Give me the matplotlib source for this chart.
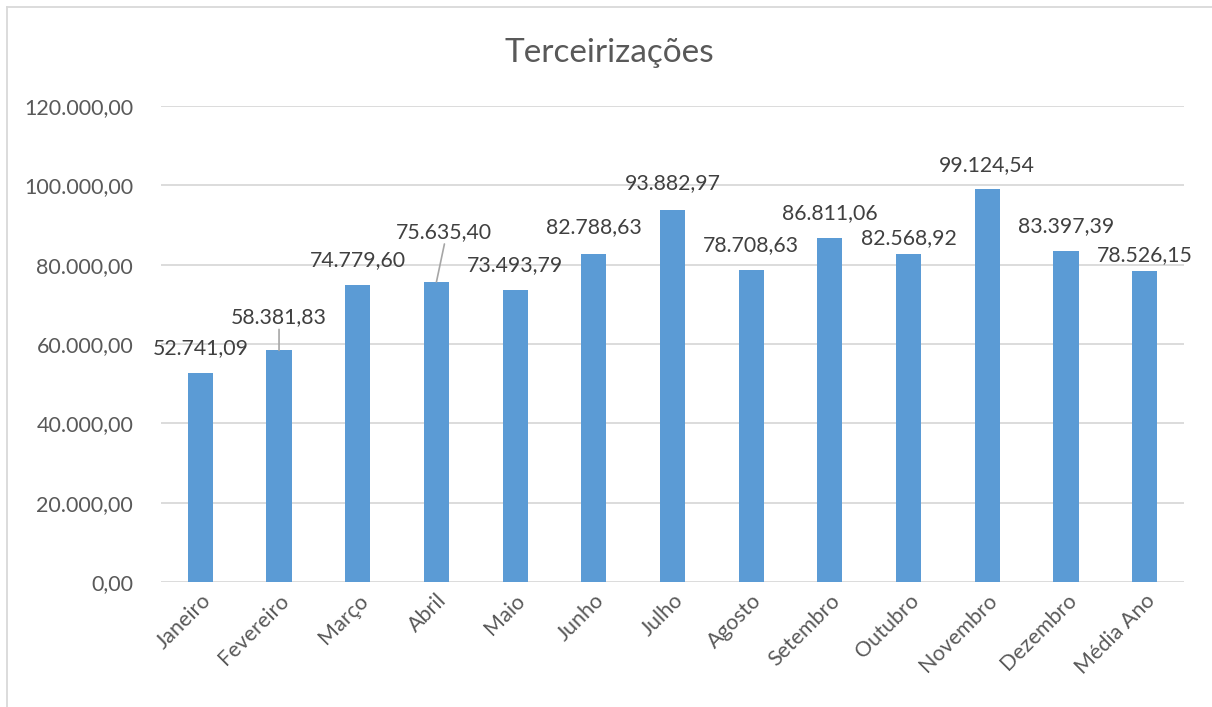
import matplotlib.pyplot as plt
from matplotlib.lines import Line2D
from matplotlib.ticker import FuncFormatter

# Data
meses = ["Janeiro", "Fevereiro", "Março", "Abril", "Maio", "Junho", "Julho",
         "Agosto", "Setembro", "Outubro", "Novembro", "Dezembro", "Média Ano"]
valores = [52741.09, 58381.83, 74779.60, 75635.40, 73493.79, 82788.63, 93882.97,
           78708.63, 86811.06, 82568.92, 99124.54, 83397.39, 78526.15]
y_ticks = [0, 20000, 40000, 60000, 80000, 100000, 120000]

# label offsets (pixels) and which labels have a leader line
label_dx = [0, 0, 0, 8, 0, 0, 0, 0, 0, 0, 0, 0, 0]
label_dy = [25, 33, 25, 50, 25, 27, 27, 25, 25, 16, 24, 25, 15]
leader = [False, True, False, True] + [False] * 9

BAR = "#5B9BD5"
TXT = "#595959"
GRID = "#D9D9D9"
plt.rcParams['font.family'] = ['Lato', 'DejaVu Sans']


def br(v, pos=None):
    s = f"{v:,.2f}"
    return s.replace(",", "X").replace(".", ",").replace("X", ".")


fig = plt.figure(figsize=(12.12, 7.07), dpi=100)
ax = fig.add_axes([161 / 1212, 1 - 582 / 707, (1184 - 161) / 1212, (582 - 106) / 707])

x = list(range(len(meses)))
ax.bar(x, valores, width=0.32, color=BAR, zorder=3)
ax.set_xlim(-0.5, len(meses) - 0.5)
ax.set_ylim(0, 120000)
ax.set_yticks(y_ticks)
ax.yaxis.set_major_formatter(FuncFormatter(br))
ax.grid(axis='y', color=GRID, linewidth=1.3, zorder=0)
for s in ax.spines.values():
    s.set_visible(False)
ax.tick_params(axis='both', length=0, colors=TXT, labelsize=15.5)
ax.tick_params(axis='y', pad=20)
ax.set_xticks(x)
ax.set_xticklabels(meses, rotation=45, ha='right', rotation_mode='anchor')
ax.tick_params(axis='x', pad=6)

for i, v in enumerate(valores):
    ax.annotate(br(v), (i, v), xytext=(label_dx[i], label_dy[i]),
                textcoords='offset pixels', ha='center', va='center',
                fontsize=15.3, color="#404040")
    if leader[i]:
        ax.annotate("", (i, v), xytext=(label_dx[i], label_dy[i] - 12),
                    textcoords='offset pixels',
                    arrowprops=dict(arrowstyle='-', color="#A6A6A6", lw=1.2,
                                    shrinkA=0, shrinkB=0))

fig.text(609 / 1212, 1 - 53 / 707, "Terceirizações", ha='center', va='center',
         fontsize=24, color=TXT)

# chart border
fig.add_artist(Line2D([7 / 1212, 7 / 1212], [0, 1 - 7 / 707], color=GRID, lw=1.3))
fig.add_artist(Line2D([7 / 1212, 1], [1 - 7 / 707, 1 - 7 / 707], color=GRID, lw=1.3))

fig.savefig("out.png", dpi=100)
